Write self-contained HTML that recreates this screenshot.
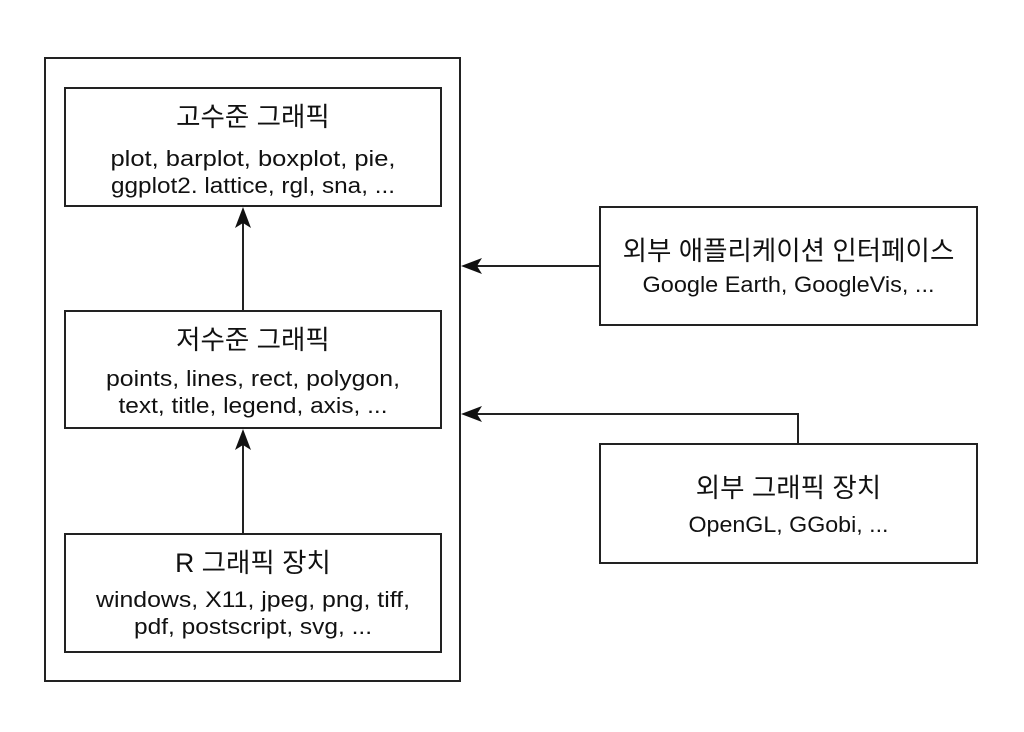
<!DOCTYPE html>
<html>
<head>
<meta charset="utf-8">
<style>
  html, body { margin: 0; padding: 0; background: #fff; }
  svg { display: block; }
  .t { font-family: "Liberation Sans", "Noto Sans CJK KR", sans-serif; fill: #111; }
  .title { font-size: 26.5px; }
  .sub { font-size: 22px; }
</style>
</head>
<body>
<svg width="1024" height="732" viewBox="0 0 1024 732" xmlns="http://www.w3.org/2000/svg">
  <rect x="0" y="0" width="1024" height="732" fill="#fff"/>
  <g fill="none" stroke="#222" stroke-width="2">
    <rect x="45" y="58" width="415" height="623"/>
    <rect x="65" y="88" width="376" height="118"/>
    <rect x="65" y="311" width="376" height="117"/>
    <rect x="65" y="534" width="376" height="118"/>
    <rect x="600" y="207" width="377" height="118"/>
    <rect x="600" y="444" width="377" height="119"/>
    <line x1="243" y1="311" x2="243" y2="222"/>
    <line x1="243" y1="534" x2="243" y2="444"/>
    <line x1="600" y1="266" x2="477" y2="266"/>
    <polyline points="798,444 798,414 477,414"/>
  </g>
  <g fill="#111" stroke="none">
    <polygon points="243,207 235,228 243,223 251,228"/>
    <polygon points="243,429 235,450 243,445 251,450"/>
    <polygon points="461,266 482,258 477,266 482,274"/>
    <polygon points="461,414 482,406 477,414 482,422"/>
  </g>

  <text class="t title" x="253" y="126" text-anchor="middle">고수준 그래픽</text>
  <text class="t sub" x="253" y="166" text-anchor="middle" textLength="285" lengthAdjust="spacingAndGlyphs">plot, barplot, boxplot, pie,</text>
  <text class="t sub" x="253" y="193" text-anchor="middle" textLength="284" lengthAdjust="spacingAndGlyphs">ggplot2. lattice, rgl, sna, ...</text>

  <text class="t title" x="253" y="349" text-anchor="middle">저수준 그래픽</text>
  <text class="t sub" x="253" y="386" text-anchor="middle" textLength="294" lengthAdjust="spacingAndGlyphs">points, lines, rect, polygon,</text>
  <text class="t sub" x="253" y="413" text-anchor="middle" textLength="269" lengthAdjust="spacingAndGlyphs">text, title, legend, axis, ...</text>

  <text class="t title" x="253" y="572" text-anchor="middle">R 그래픽 장치</text>
  <text class="t sub" x="253" y="607" text-anchor="middle" textLength="314" lengthAdjust="spacingAndGlyphs">windows, X11, jpeg, png, tiff,</text>
  <text class="t sub" x="253" y="634" text-anchor="middle" textLength="238" lengthAdjust="spacingAndGlyphs">pdf, postscript, svg, ...</text>

  <text class="t title" x="788.5" y="260" text-anchor="middle">외부 애플리케이션 인터페이스</text>
  <text class="t sub" x="788.5" y="292" text-anchor="middle" textLength="292" lengthAdjust="spacingAndGlyphs">Google Earth, GoogleVis, ...</text>

  <text class="t title" x="788.5" y="497" text-anchor="middle">외부 그래픽 장치</text>
  <text class="t sub" x="788.5" y="532" text-anchor="middle" textLength="200" lengthAdjust="spacingAndGlyphs">OpenGL, GGobi, ...</text>
</svg>
</body>
</html>
